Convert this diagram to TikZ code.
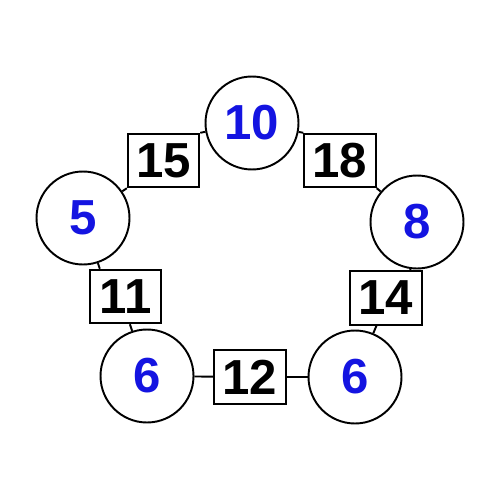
\documentclass[tikz,border=0pt]{standalone}
\usepackage{fontspec}
\setmainfont{Liberation Sans}
\usetikzlibrary{calc}
\definecolor{numblue}{RGB}{20,20,225}
\begin{document}
\begin{tikzpicture}[x=0.02cm,y=-0.02cm,
  circ/.style={circle,draw,line width=1.1pt,minimum size=1.86cm,inner sep=0pt,font=\fontsize{28}{28}\selectfont\bfseries,text=numblue},
  wbox/.style={rectangle,draw,line width=1.1pt,minimum width=1.43cm,minimum height=1.07cm,inner sep=0pt,font=\fontsize{28}{28}\selectfont\bfseries},
  conn/.style={line width=1.1pt}]
\useasboundingbox (0,0) rectangle (500,500);
\node[circ] (c10) at (252,123) {10};
\node[circ] (c5) at (83,218) {5};
\node[circ] (c8) at (417,222) {8};
\node[circ] (c6a) at (147,376) {6};
\node[circ] (c6b) at (355,377) {6};
\node[wbox] (b15) at (163.5,160.5) {15};
\node[wbox] (b18) at (340,160.5) {18};
\node[wbox] (b11) at (125.5,296.5) {11};
\node[wbox] (b14) at (386,298) {14};
\node[wbox] (b12) at (250,377) {12};
\draw[conn] (c5) -- (b15.south west);
\draw[conn] (b15.north east) -- (c10);
\draw[conn] (c10) -- (b18.north west);
\draw[conn] (b18.south east) -- (c8);
\coordinate (p11t) at ($(b11.north west)!0.15!(b11.north east)$);
\coordinate (p11b) at ($(b11.south west)!0.56!(b11.south east)$);
\coordinate (p14t) at ($(b14.north west)!0.83!(b14.north east)$);
\coordinate (p14b) at ($(b14.south west)!0.37!(b14.south east)$);
\draw[conn] (c5) -- (p11t);
\draw[conn] (p11b) -- (c6a);
\draw[conn] (c8) -- (p14t);
\draw[conn] (p14b) -- (c6b);
\draw[conn] (c6a) -- (b12);
\draw[conn] (b12) -- (c6b);
\end{tikzpicture}
\end{document}
